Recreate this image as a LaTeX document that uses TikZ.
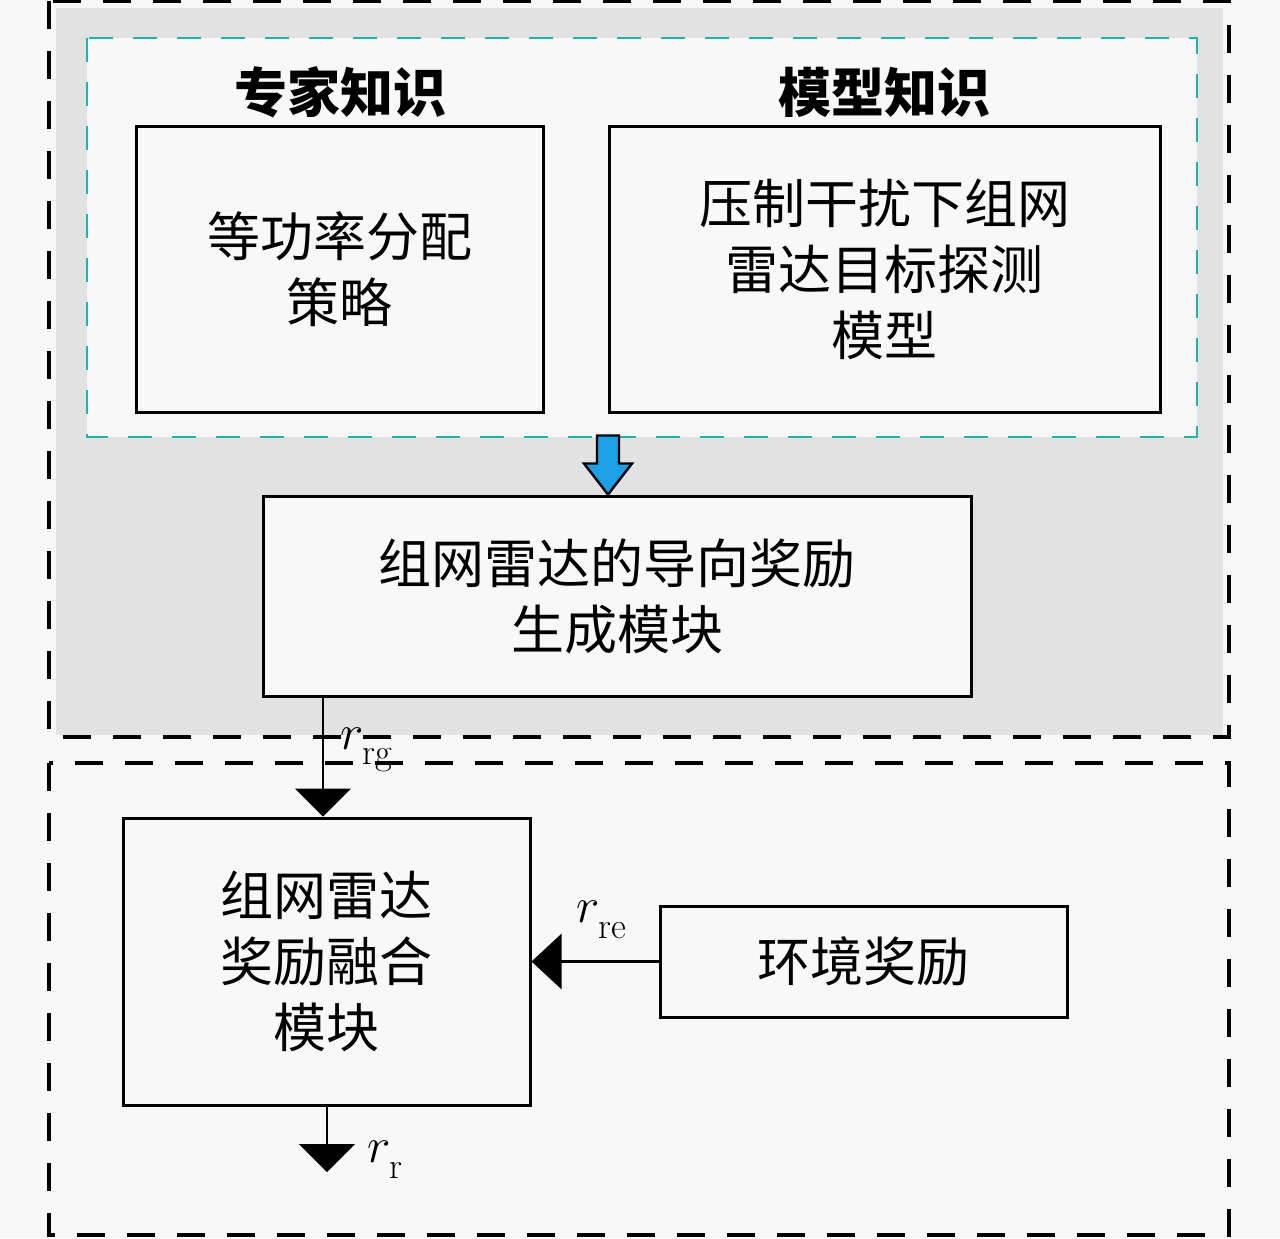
\documentclass[tikz,border=0pt]{standalone}
\usepackage{fontspec}
\newfontfamily\cjk{Noto Sans CJK SC}
\usetikzlibrary{arrows.meta,calc}
\definecolor{bgc}{HTML}{F8F8F8}
\definecolor{grayfill}{HTML}{E2E2E2}
\definecolor{tealc}{RGB}{30,180,170}
\definecolor{bluec}{RGB}{30,160,230}
\newcommand{\lowsub}[1]{_{\lower4pt\hbox{$\scriptstyle\mathrm{#1}$}}}
\tikzset{
  box/.style={draw=black, line width=1.5pt, fill=bgc, align=center, inner sep=0pt,
    font=\cjk\fontsize{26.5}{33}\selectfont},
  title/.style={font=\cjk\bfseries\fontsize{26.5}{33}\selectfont, inner sep=0pt},
  region/.style={draw=black, line width=1.6pt, dash pattern=on 14pt off 11pt},
  tealregion/.style={draw=tealc, line width=1.4pt, dash pattern=on 12pt off 10pt, fill=bgc},
  conn/.style={line width=1pt, draw=black},
  bigtip/.style={-{Triangle[width=28pt,length=14pt]}},
  lab/.style={font=\fontsize{26}{30}\selectfont, inner sep=0pt}
}
\begin{document}
\begin{tikzpicture}[x=0.5pt,y=-0.5pt]
\useasboundingbox (0,0) rectangle (1280,1238);
\fill[bgc] (0,0) rectangle (1280,1238);
% regions
\fill[grayfill] (56,8) rectangle (1223,735);
\draw[region] (49,1) rectangle (1229,737);
\draw[region] (49,763) rectangle (1229,1235);
\draw[tealregion] (87,38) rectangle (1197,437);
% titles
\node[title] (t1) at (340,92) {专家知识};
\node[title] (t2) at (884,92) {模型知识};
% boxes
\node[box, minimum width=203.5pt, minimum height=143pt] (expert) at (339.5,269) {等功率分配\\策略};
\node[box, minimum width=275.5pt, minimum height=143pt] (model) at (884.5,269) {压制干扰下组网\\雷达目标探测\\模型};
\node[box, minimum width=354pt, minimum height=100pt] (guide) at (617,596) {组网雷达的导向奖励\\生成模块};
\node[box, minimum width=203.5pt, minimum height=143.5pt] (fusion) at (326.5,961.5) {组网雷达\\奖励融合\\模块};
\node[box, minimum width=203.5pt, minimum height=55.5pt] (env) at (863.5,961.5) {环境奖励};
% blue arrow
\coordinate (btip) at ($(guide.north)+(-9,0)$);
\draw[fill=bluec, line width=1.2pt, line join=miter]
  ($(btip)+(-11,-59)$) -- ($(btip)+(11,-59)$) -- ($(btip)+(11,-31)$) -- ($(btip)+(24,-31)$)
  -- (btip) -- ($(btip)+(-24,-31)$) -- ($(btip)+(-11,-31)$) -- cycle;
% r_rg connector
\coordinate (gout) at (323,696);
\draw[conn, bigtip] (gout) -- (gout |- fusion.north);
\node[lab] (lrg) at (367,750) {$r\lowsub{rg}$};
% env -> fusion
\draw[conn, line width=1.5pt, -{Triangle[width=27.5pt,length=15pt]}] (env.west) -- (fusion.east);
\node[lab] (lre) at (602,920) {$r\lowsub{re}$};
% output
\coordinate (rout) at (327,1172);
\draw[conn, bigtip] (fusion.south -| rout) -- (rout);
\node[lab] (lr) at (385,1160) {$r\lowsub{r}$};
\end{tikzpicture}
\end{document}
